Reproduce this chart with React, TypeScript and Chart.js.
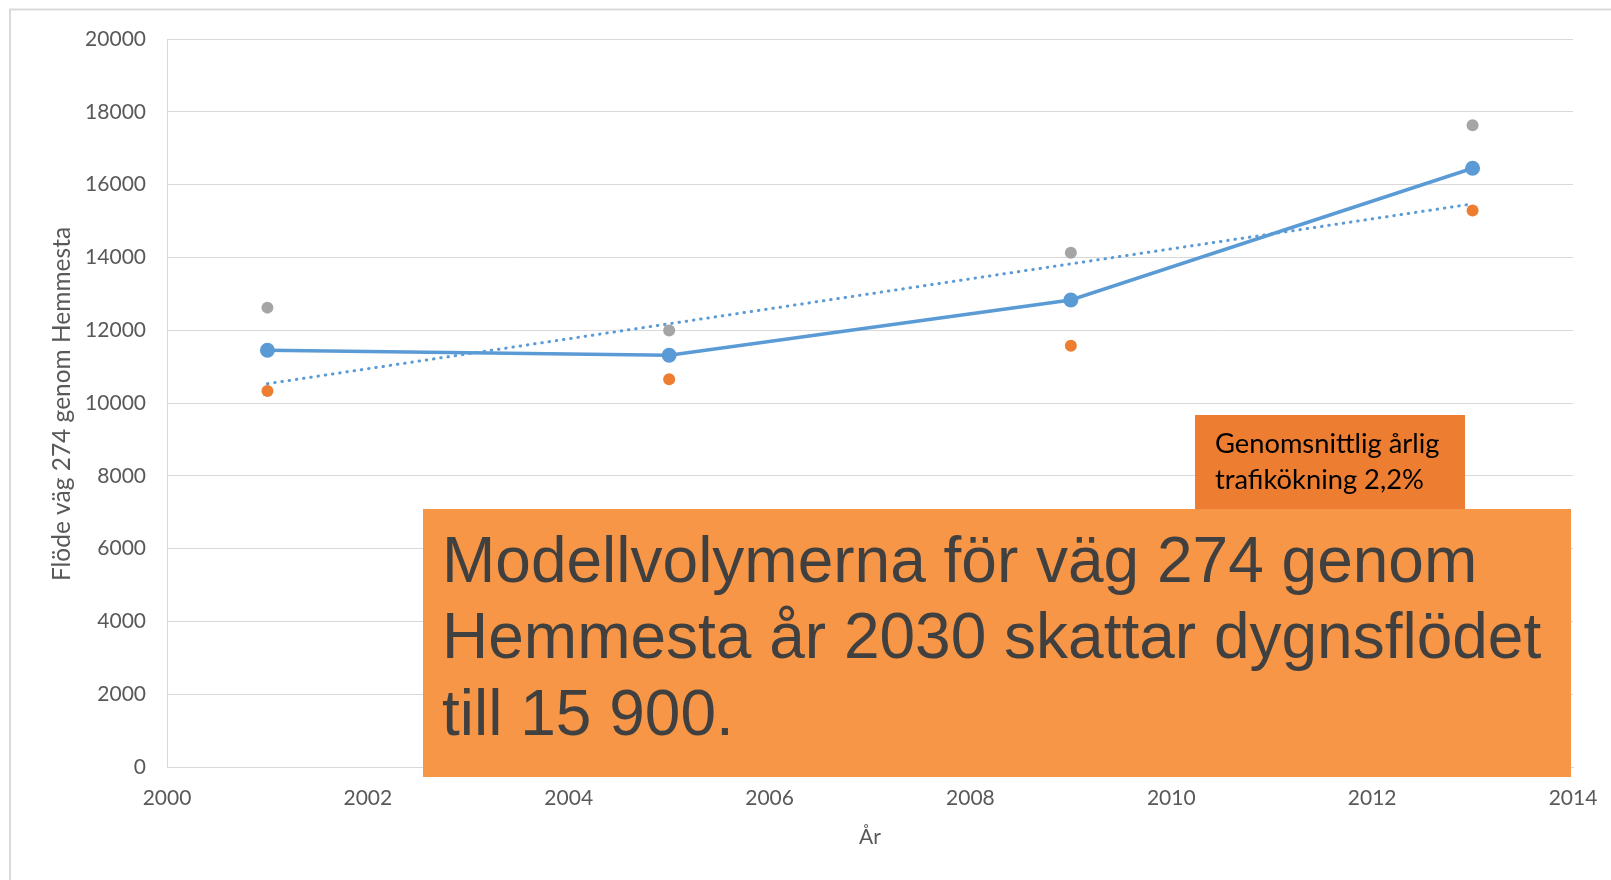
import React, { useEffect, useRef } from "react";
import { Chart, registerables } from "chart.js";

Chart.register(...registerables);

// ---- data ----
const years = [2001, 2005, 2009, 2013];
const flow = [11450, 11310, 12830, 16450];
const highEst = [12620, 11990, 14130, 17630];
const lowEst = [10330, 10650, 11570, 15290];
const trendYears = [2001, 2013];
const trendValues = [10530, 15470];
const xTicks = [2000, 2002, 2004, 2006, 2008, 2010, 2012, 2014];
const yTicks = [0, 2000, 4000, 6000, 8000, 10000, 12000, 14000, 16000, 18000, 20000];
const yTitle = "Flöde väg 274 genom Hemmesta";
const xTitle = "År";
const noteSmall = ["Genomsnittlig årlig", "trafikökning 2,2%"];
const noteBig = [
  "Modellvolymerna för väg 274 genom",
  "Hemmesta år 2030 skattar dygnsflödet",
  "till 15 900.",
];

const W = 1611;
const H = 880;

const pts = (xs: number[], ys: number[]) => xs.map((x, i) => ({ x, y: ys[i] }));

const decorPlugin = {
  id: "decor",
  beforeDraw(chart: any) {
    const ctx = chart.ctx;
    ctx.save();
    ctx.fillStyle = "#ffffff";
    ctx.fillRect(0, 0, W, H);
    ctx.strokeStyle = "#d9d9d9";
    ctx.lineWidth = 2;
    ctx.beginPath();
    ctx.moveTo(10, H);
    ctx.lineTo(10, 9.5);
    ctx.lineTo(W, 9.5);
    ctx.stroke();
    ctx.restore();
  },
  afterDraw(chart: any) {
    const ctx = chart.ctx;
    ctx.save();
    // y axis title
    ctx.save();
    ctx.translate(62, 404);
    ctx.rotate(-Math.PI / 2);
    ctx.fillStyle = "#595959";
    ctx.font = "24.5px Lato";
    ctx.textAlign = "center";
    ctx.textBaseline = "middle";
    ctx.fillText(yTitle, 0, 0);
    ctx.restore();
    // small note box
    ctx.fillStyle = "#ED7D31";
    ctx.fillRect(1195, 415, 270, 100);
    ctx.fillStyle = "#000000";
    ctx.font = "27.3px Lato";
    ctx.textBaseline = "alphabetic";
    ctx.textAlign = "left";
    ctx.fillText(noteSmall[0], 1215, 453);
    ctx.fillText(noteSmall[1], 1215, 489);
    // big note box
    ctx.fillStyle = "#F79646";
    ctx.fillRect(423, 509, 1148, 268);
    ctx.fillStyle = "#404040";
    ctx.font = "64px 'Liberation Sans'";
    ctx.fillText(noteBig[0], 442, 582);
    ctx.fillText(noteBig[1], 442, 658);
    ctx.fillText(noteBig[2], 442, 735);
    ctx.restore();
  },
};

export default function App() {
  const ref = useRef<HTMLCanvasElement | null>(null);

  useEffect(() => {
    if (!ref.current) return;
    const tickFont = { family: "Lato", size: 21 };
    const chart = new Chart(ref.current, {
      type: "scatter",
      data: {
        datasets: [
          {
            label: "Trend",
            data: pts(trendYears, trendValues),
            showLine: true,
            borderColor: "#5B9BD5",
            borderWidth: 3,
            borderDash: [0.5, 6.8],
            borderCapStyle: "round",
            pointRadius: 0,
            fill: false,
          },
          {
            label: "Flöde",
            data: pts(years, flow),
            showLine: true,
            borderColor: "#5B9BD5",
            backgroundColor: "#5B9BD5",
            borderWidth: 3.5,
            pointRadius: 7.5,
            pointBorderWidth: 0,
            pointBackgroundColor: "#5B9BD5",
            fill: false,
          },
          {
            label: "Hög",
            data: pts(years, highEst),
            showLine: false,
            pointRadius: 6,
            pointBorderWidth: 0,
            pointBackgroundColor: "#A5A5A5",
            backgroundColor: "#A5A5A5",
          },
          {
            label: "Låg",
            data: pts(years, lowEst),
            showLine: false,
            pointRadius: 6,
            pointBorderWidth: 0,
            pointBackgroundColor: "#ED7D31",
            backgroundColor: "#ED7D31",
          },
        ],
      },
      options: {
        responsive: false,
        animation: false,
        layout: { padding: { left: 0, top: 39, right: 38, bottom: 0 } },
        plugins: {
          legend: { display: false },
          tooltip: { enabled: false },
          title: { display: false },
        },
        scales: {
          x: {
            type: "linear",
            min: 2000,
            max: 2014,
            afterBuildTicks: (s: any) => {
              s.ticks = xTicks.map((v) => ({ value: v }));
            },
            afterFit: (s: any) => {
              s.height = 113;
              s.paddingLeft = 0;
              s.paddingRight = 0;
            },
            grid: { display: false, drawTicks: false },
            border: { display: true, color: "#d9d9d9", width: 1 },
            ticks: {
              color: "#595959",
              font: tickFont,
              padding: 19,
              maxRotation: 0,
              autoSkip: false,
              callback: (v: any) => String(v),
            },
            title: {
              display: true,
              text: xTitle,
              color: "#595959",
              font: { family: "Lato", size: 21 },
              padding: { top: 0, bottom: 30 },
            },
          },
          y: {
            type: "linear",
            min: 0,
            max: 20000,
            afterBuildTicks: (s: any) => {
              s.ticks = yTicks.map((v) => ({ value: v }));
            },
            afterFit: (s: any) => {
              s.width = 167;
              s.paddingTop = 0;
              s.paddingBottom = 0;
            },
            grid: { color: "#d9d9d9", lineWidth: 1, drawTicks: false },
            border: { display: true, color: "#d9d9d9", width: 1 },
            ticks: {
              color: "#595959",
              font: tickFont,
              padding: 21,
              autoSkip: false,
              callback: (v: any) => String(v),
            },
            title: { display: false },
          },
        },
      },
      plugins: [decorPlugin],
    } as any);
    return () => chart.destroy();
  }, []);

  return (
    <div style={{ position: "absolute", left: 0, top: 0, width: W, height: H }}>
      <canvas ref={ref} width={W} height={H} style={{ display: "block" }} />
    </div>
  );
}
